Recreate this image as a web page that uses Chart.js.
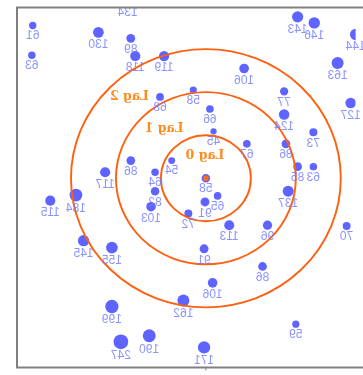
<!DOCTYPE html>
<html>
<head>
<meta charset="utf-8">
<script src="https://cdn.jsdelivr.net/npm/chart.js@4/dist/chart.umd.min.js"></script>
<style>
html,body{margin:0;padding:0;background:#fff;}
#wrap{width:363px;height:375px;}
#map{transform:scaleX(-1);}
</style>
</head>
<body>
<div id="wrap"><canvas id="map" width="363" height="375"></canvas></div>
<script>
// counts per site and their positions (map units, focal site at 0,0)
const counts = [61,63,130,89,118,119,68,58,66,106,77,124,143,146,163,127,144,
  45,67,73,86,85,63,54,86,117,64,82,103,184,115,65,91,72,137,113,96,70,
  145,155,91,86,106,162,199,190,247,59,171,134];
const xs = [-38.5,-38.7,-23.9,-16.7,-15.7,-9.3,-10.2,-2.8,0.9,8.5,17.4,17.4,20.4,24.1,29.3,32.2,33.3,
  1.7,9.1,23.9,17.8,20.4,23.9,-7.6,-16.7,-22.4,-11.3,-11.3,-12.2,-28.9,-34.6,2.6,-0.2,-3.9,18.3,5.2,13.7,31.3,
  -27.2,-20.9,-0.4,12.6,1.5,-5.0,-20.9,-12.6,-18.9,20.0,-0.4,-17.4];
const ys = [35.5,28.6,33.9,32.5,28.4,28.4,18.9,20.5,16.1,25.5,20.2,14.8,37.5,36.1,26.8,17.5,33.4,
  10.9,8.0,10.7,8.0,2.7,2.7,4.1,4.1,1.4,1.4,-3.0,-6.6,-3.9,-5.2,-4.1,-5.5,-8.2,-3.0,-10.9,-10.9,-11.1,
  -14.5,-16.1,-16.4,-20.5,-24.3,-28.4,-29.8,-36.6,-38.0,-33.9,-39.3,41.4];

const focalX = [0];
const focalY = [0];
const focalCount = [58];

// lag rings
const lagRadii = [10, 20, 30];
const lagNames = ["Lag 0", "Lag 1", "Lag 2"];
const lagTextX = [-0.2, -9.3, -17.0];
const lagTextY = [5.2, 11.6, 18.9];

const sizeOf = v => Math.sqrt(v) * 0.47;

const sites = counts.map((c, i) => ({x: xs[i], y: ys[i], r: sizeOf(c), count: c}));
const focal = focalCount.map((c, i) => ({x: focalX[i], y: focalY[i], r: sizeOf(c), count: c}));

const ringsPlugin = {
  id: 'rings',
  afterDatasetsDraw(chart){
    const {ctx, scales:{x, y}} = chart;
    const cx = x.getPixelForValue(focalX[0]);
    const cy = y.getPixelForValue(focalY[0]);
    ctx.save();
    ctx.strokeStyle = '#ff6010';
    ctx.lineWidth = 1.9;
    lagRadii.forEach(r => {
      const rx = Math.abs(x.getPixelForValue(focalX[0] + r) - cx);
      const ry = Math.abs(y.getPixelForValue(focalY[0] + r) - cy);
      ctx.beginPath();
      ctx.ellipse(cx, cy, rx, ry, 0, 0, Math.PI * 2);
      ctx.stroke();
    });
    ctx.restore();
  }
};

const labelsPlugin = {
  id: 'labels',
  afterDraw(chart){
    const {ctx, chartArea:a, scales:{x, y}} = chart;
    ctx.save();
    // site counts under each dot
    ctx.font = "12px 'Liberation Sans', Arial, sans-serif";
    ctx.fillStyle = 'rgba(110,120,255,0.8)';
    ctx.textAlign = 'center';
    ctx.textBaseline = 'middle';
    chart.data.datasets.forEach((ds, di) => {
      const meta = chart.getDatasetMeta(di);
      meta.data.forEach((pt, i) => {
        const d = ds.data[i];
        ctx.fillText(String(d.count), pt.x, pt.y + d.r + 7);
      });
    });
    // ring names
    ctx.font = "bold 12.5px 'DejaVu Serif', serif";
    ctx.fillStyle = '#ff8a1e';
    lagNames.forEach((t, i) => {
      ctx.fillText(t, x.getPixelForValue(lagTextX[i]), y.getPixelForValue(lagTextY[i]));
    });
    // frame
    ctx.strokeStyle = '#808080';
    ctx.lineWidth = 2;
    ctx.beginPath();
    ctx.moveTo(0, a.top);
    ctx.lineTo(a.right, a.top);
    ctx.lineTo(a.right, a.bottom);
    ctx.lineTo(0, a.bottom);
    ctx.stroke();
    // small tick under the focal site
    const tx = x.getPixelForValue(focalX[0]);
    ctx.lineWidth = 1;
    ctx.beginPath();
    ctx.moveTo(tx, a.bottom);
    ctx.lineTo(tx, a.bottom + 3);
    ctx.stroke();
    ctx.restore();
  }
};

new Chart(document.getElementById('map'), {
  type: 'bubble',
  data: {
    datasets: [
      {data: sites, backgroundColor: '#5f63ff', borderWidth: 0, clip: 0},
      {data: focal, backgroundColor: '#ff6a14', borderColor: '#5f63ff', borderWidth: 1.5, clip: 0}
    ]
  },
  options: {
    responsive: false,
    devicePixelRatio: 1,
    animation: false,
    layout: {padding: {left: 0, right: 17, top: 5, bottom: 2}},
    plugins: {legend: {display: false}, tooltip: {enabled: false}},
    scales: {
      x: {type: 'linear', reverse: true, min: -42, max: 33.3, display: false},
      y: {type: 'linear', min: -44, max: 39.7, display: false}
    }
  },
  plugins: [ringsPlugin, labelsPlugin]
});
</script>
</body>
</html>
